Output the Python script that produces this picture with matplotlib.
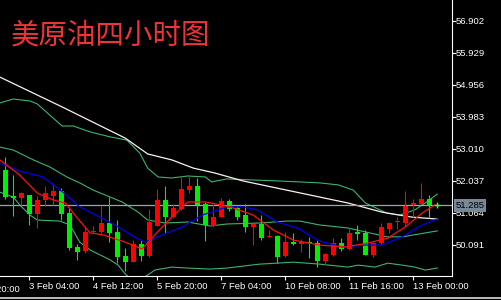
"""
WTI crude oil H4 chart - candles, moving averages and bollinger bands
"""

import matplotlib.pyplot as plt
from matplotlib.lines import Line2D
from matplotlib import transforms
import numpy as np

plt.rcParams['font.family'] = ['Liberation Sans', 'DejaVu Sans']

TITLE = '美原油四小时图'

# 4H candles, oldest first
opens = [52.36, 51.57, 51.50, 51.60, 51.02, 51.45, 51.58, 51.73, 51.06, 50.03,
         49.91, 50.47, 50.49, 50.76, 50.49, 49.75, 49.57, 50.11, 49.75, 50.66,
         51.45, 50.94, 51.17, 51.75, 51.88, 51.33, 50.66, 50.94, 51.43, 51.20,
         50.99, 50.64, 50.72, 50.32, 50.36, 49.75, 50.16, 50.10, 50.18, 50.13,
         49.60, 49.78, 50.13, 49.96, 50.49, 50.44, 49.78, 50.13, 50.57, 50.77,
         50.76, 51.30, 51.33, 51.47]
highs = [52.75, 52.21, 51.70, 51.61, 51.57, 51.88, 51.98, 51.81, 51.20, 50.11,
         50.62, 50.66, 51.27, 51.55, 50.84, 49.98, 50.23, 50.23, 51.17, 51.78,
         51.88, 51.33, 52.18, 52.18, 52.11, 51.40, 51.33, 51.50, 51.47, 51.27,
         51.33, 50.72, 50.99, 50.54, 50.39, 50.49, 50.46, 50.26, 50.33, 50.23,
         49.83, 50.29, 50.29, 50.59, 50.69, 50.54, 50.18, 50.76, 50.79, 50.94,
         51.73, 51.47, 51.98, 51.60]
lows = [51.47, 50.96, 51.30, 50.69, 50.59, 51.27, 51.30, 50.84, 49.93, 49.63,
        49.85, 50.44, 50.46, 50.17, 49.53, 49.30, 49.57, 49.60, 49.71, 50.66,
        50.44, 50.89, 51.15, 51.67, 50.82, 50.21, 50.62, 50.94, 51.13, 50.84,
        50.49, 50.08, 50.23, 50.32, 49.53, 49.73, 50.08, 49.88, 49.68, 49.42,
        49.47, 49.75, 49.91, 49.93, 50.23, 49.78, 49.71, 50.11, 50.44, 50.57,
        50.66, 50.94, 51.33, 50.89]
closes = [51.55, 51.52, 51.65, 51.02, 51.45, 51.65, 51.73, 51.02, 49.98, 49.88,
          50.49, 50.51, 50.76, 50.46, 49.73, 49.57, 50.11, 49.75, 50.79, 51.45,
          50.94, 51.20, 51.78, 51.88, 51.30, 50.69, 50.94, 51.43, 51.17, 50.94,
          50.64, 50.72, 50.29, 50.36, 49.73, 50.18, 50.10, 50.16, 50.13, 49.60,
          49.81, 50.13, 49.96, 50.46, 50.42, 49.78, 50.15, 50.62, 50.76, 50.79,
          51.27, 51.37, 51.47, 51.285]
bid = 51.285

# indicator lines: (bar, price)
slow_ma_bar = [-0.7, 7.1, 15.0, 17.8, 20.8, 23.5, 26.2, 29.7, 34.0, 38.7, 42.8, 47.1, 50.8, 54.0]
slow_ma = [55.19, 54.28, 53.33, 52.85, 52.67, 52.42, 52.27, 52.03, 51.81, 51.57, 51.36, 51.08, 50.93, 50.87]

fast_ma_bar = [-0.7, 1.8, 4.0, 6.0, 7.5, 9.0, 10.6, 12.2, 15.0, 17.1, 18.7, 20.8, 22.8,
               25.0, 28.1, 31.0, 33.5, 36.0, 39.3, 42.5, 45.3, 47.8, 50.0, 52.1, 53.7]
fast_ma = [52.67, 52.21, 51.66, 51.45, 51.36, 50.90, 50.45, 50.39, 50.17, 49.96, 50.39, 50.93, 51.39,
           51.39, 51.24, 50.99, 50.54, 50.23, 50.08, 50.02, 50.14, 50.29, 50.63, 51.05, 51.30]

mid_ma_bar = [-0.7, 1.8, 4.7, 7.2, 9.3, 11.8, 13.7, 16.2, 17.5, 19.6, 22.1, 24.6,
              27.7, 29.7, 31.5, 34.0, 36.5, 39.3, 42.1, 45.0, 47.1, 49.6, 52.1, 54.0]
mid_ma = [52.57, 52.33, 52.15, 51.69, 51.24, 50.93, 50.69, 50.32, 50.17, 50.39, 50.63, 50.99,
          51.24, 51.24, 51.15, 50.78, 50.60, 50.20, 50.02, 50.08, 50.08, 50.33, 50.69, 50.87]

bb_up_bar = [-0.7, 1.0, 3.1, 4.0, 7.1, 8.5, 10.6, 13.1, 15.2, 16.8, 17.8, 19.1, 20.8, 22.8,
             25.0, 25.8, 27.7, 34.0, 39.3, 41.6, 43.5, 45.0, 47.7, 49.3, 51.2, 52.5, 54.0]
bb_up = [54.40, 54.52, 54.46, 54.37, 53.70, 53.70, 53.52, 53.37, 53.27, 52.88, 52.42, 52.15, 52.12, 52.18,
         52.15, 52.00, 52.09, 52.03, 51.97, 51.91, 51.75, 51.36, 51.05, 50.99, 51.15, 51.36, 51.63]

bb_mid_bar = [-0.7, 1.0, 3.5, 5.6, 7.7, 9.3, 11.0, 13.1, 14.6, 16.6, 17.8, 20.0, 22.8,
              25.6, 27.7, 31.8, 35.2, 36.8, 39.3, 42.8, 45.0, 47.7, 49.7, 51.8, 54.0]
bb_mid = [53.06, 52.97, 52.67, 52.45, 52.15, 51.97, 51.75, 51.54, 51.39, 51.08, 50.84, 50.75, 50.78,
          50.66, 50.72, 50.75, 50.81, 50.81, 50.69, 50.60, 50.48, 50.33, 50.33, 50.42, 50.51]

bb_low_bar = [-0.7, 1.0, 1.8, 3.1, 4.0, 6.8, 8.1, 9.3, 10.6, 13.1, 14.1, 15.0, 15.8, 16.8, 17.8, 18.7,
              20.8, 22.8, 25.6, 27.7, 29.7, 31.8, 34.0, 36.0, 39.3, 42.8, 44.1, 46.2, 47.8, 49.6,
              51.2, 52.5, 54.0]
bb_low = [51.69, 51.54, 51.30, 50.99, 50.84, 50.81, 50.69, 50.17, 49.93, 49.63, 49.47, 49.20, 49.02, 49.02,
          49.17, 49.32, 49.41, 49.38, 49.35, 49.38, 49.44, 49.50, 49.53, 49.56, 49.50, 49.41, 49.47,
          49.41, 49.53, 49.47, 49.41, 49.32, 49.38]

price_ticks = [56.902, 55.929, 54.956, 53.983, 53.010, 52.037, 51.064, 50.091]
time_tick_bars = [3, 11, 19, 27, 35, 43, 51]
time_tick_labels = ['3 Feb 04:00', '4 Feb 12:00', '5 Feb 20:00',
                    '7 Feb 04:00', '10 Feb 08:00', '11 Feb 16:00', '13 Feb 00:00']
# label of the tick just left of the visible window
prev_tick_bar = -5
prev_tick_label = '30 Jan 20:00'


def main():
    fig = plt.figure(figsize=(5.01, 3.0), dpi=100, facecolor='black')
    ax = fig.add_axes([0, 24 / 300, 451.5 / 501, 276 / 300])
    ax.set_facecolor('black')

    draw_lines(ax)
    draw_candles(ax)
    axes_style(ax)

    # bid line, marker and price label
    ax.axhline(bid, color='#9ea4aa', lw=0.9, zorder=1)
    ax.plot(len(closes), bid, '+', color='#33ff33', ms=5, mew=1, zorder=5)
    tr = transforms.blended_transform_factory(ax.transAxes, ax.transData)
    ax.text(1.009, bid, f'{bid:.3f}', transform=tr, ha='left', va='center',
            color='black', fontsize=6.8, clip_on=False, zorder=6,
            bbox=dict(boxstyle='square,pad=0.18', fc='#778899', ec='none'))

    fig.text(11 / 501, 1 - 43 / 300, TITLE, color='#ee3434', fontsize=20.5,
             family=['Noto Sans CJK SC', 'DejaVu Sans'], ha='left', va='baseline')

    # window border under the time scale
    fig.add_artist(Line2D([0, 1], [1.8 / 300, 1.8 / 300], color='#dcdcdc', lw=1.2,
                          transform=fig.transFigure))

    fig.savefig('out.png', dpi=100, facecolor='black')


def draw_lines(ax):
    bb_color = '#3cb371'
    ax.plot(bb_up_bar, bb_up, color=bb_color, lw=0.8, zorder=1)
    ax.plot(bb_mid_bar, bb_mid, color=bb_color, lw=0.8, zorder=1)
    ax.plot(bb_low_bar, bb_low, color=bb_color, lw=0.8, zorder=1)
    ax.plot(slow_ma_bar, slow_ma, color='#fff0f0', lw=0.9, zorder=1)
    ax.plot(mid_ma_bar, mid_ma, color='#0000f0', lw=0.9, zorder=3)
    ax.plot(fast_ma_bar, fast_ma, color='#ff1010', lw=0.9, zorder=3)


def draw_candles(ax):
    o = np.array(opens)
    c = np.array(closes)
    x = np.arange(len(o))
    colors = np.where(c >= o, '#ff0000', '#00ee00')
    ax.vlines(x, lows, highs, colors=colors, lw=0.8, zorder=2)
    bottom = np.minimum(o, c)
    height = np.maximum(np.abs(c - o), 0.03)
    ax.bar(x, height, bottom=bottom, width=0.62, color=colors, lw=0, zorder=2)


def axes_style(ax):
    for side in ['left', 'top']:
        ax.spines[side].set_visible(False)
    for side in ['right', 'bottom']:
        ax.spines[side].set_color('white')
        ax.spines[side].set_linewidth(0.8)

    ax.yaxis.tick_right()
    ax.set_yticks(price_ticks)
    ax.set_yticklabels([f'{p:.3f}' for p in price_ticks])
    ax.set_xticks(time_tick_bars)
    ax.set_xticklabels(time_tick_labels, ha='left')
    ax.tick_params(axis='y', colors='white', length=2.6, width=0.8, labelsize=6.8, pad=0.6)
    ax.tick_params(axis='x', colors='white', length=2.8, width=0.8, labelsize=6.8, pad=1.2)

    # limits last, so the ticks do not stretch them
    ax.set_xlim(-0.6625, 55.775)
    ax.set_ylim(57.531 - 0.030406 * 276, 57.531)

    tr = transforms.blended_transform_factory(ax.transData, ax.transAxes)
    ax.annotate(prev_tick_label, (prev_tick_bar, 0), xycoords=tr, xytext=(0, -6.3),
                textcoords='offset points', ha='left', va='top', color='white',
                fontsize=6.8, annotation_clip=False)


if __name__ == "__main__":
    main()
